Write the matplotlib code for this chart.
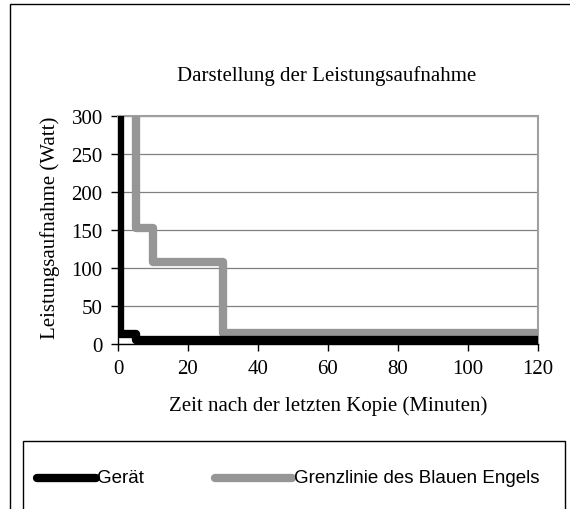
import matplotlib
matplotlib.use("Agg")
import matplotlib.pyplot as plt
from matplotlib.patches import Rectangle
from matplotlib.lines import Line2D

# Data
geraet_x = [0.5, 0.5, 5, 5, 120]
geraet_y = [400, 13, 13, 5, 5]
grenz_x = [5, 5, 10, 10, 30, 30, 120]
grenz_y = [400, 152, 152, 108, 108, 14, 14]
x_ticks = [0, 20, 40, 60, 80, 100, 120]
y_ticks = [0, 50, 100, 150, 200, 250, 300]
title = "Darstellung der Leistungsaufnahme"
xlabel = "Zeit nach der letzten Kopie (Minuten)"
ylabel = "Leistungsaufnahme (Watt)"
labels = ["Gerät", "Grenzlinie des Blauen Engels"]

W, H = 570, 510
fig = plt.figure(figsize=(W / 100, H / 100), dpi=100)

def fx(px):
    return px / W

def fy(py):
    return 1 - py / H

# outer chart frame (extends beyond the image on right and bottom)
fig.patches.append(Rectangle((fx(10), fy(540)), fx(600) - fx(10), fy(5) - fy(540),
                             transform=fig.transFigure, fill=False,
                             edgecolor="black", linewidth=1))

ax = fig.add_axes([fx(118), fy(345), fx(538) - fx(118), fy(116.7) - fy(345)])
ax.plot(grenz_x, grenz_y, color="#969696", linewidth=6, solid_joinstyle="round",
        solid_capstyle="round", zorder=3)
ax.plot(geraet_x, geraet_y, color="black", linewidth=6, solid_joinstyle="round",
        solid_capstyle="round", zorder=4)
ax.set_xlim(0, 120)
ax.set_ylim(0, 300)
ax.set_xticks(x_ticks)
ax.set_yticks(y_ticks)
serif = "Liberation Serif"
fs = 15
ax.set_xticklabels([str(v) for v in x_ticks], fontfamily=serif, fontsize=fs)
ax.set_yticklabels([str(v) for v in y_ticks], fontfamily=serif, fontsize=fs)
ax.tick_params(direction="out", length=5, width=1, color="black", pad=6)
ax.yaxis.grid(True, color="#808080", linewidth=0.9)
ax.set_axisbelow(True)
for s in ["top", "right"]:
    ax.spines[s].set_color("#a0a0a0")
    ax.spines[s].set_linewidth(1.5)
for s in ["left", "bottom"]:
    ax.spines[s].set_color("black")
    ax.spines[s].set_linewidth(1)

fig.text(fx(327), fy(76), title, ha="center", va="center", fontfamily=serif, fontsize=fs)
fig.text(fx(328), fy(406), xlabel, ha="center", va="center", fontfamily=serif, fontsize=fs)
fig.text(fx(50), fy(228), ylabel, ha="center", va="center", rotation=90,
         fontfamily=serif, fontsize=fs)

# legend box
fig.patches.append(Rectangle((fx(23), fy(540)), fx(565) - fx(23), fy(442) - fy(540),
                             transform=fig.transFigure, fill=False,
                             edgecolor="black", linewidth=1))
ly = fy(479)
fig.add_artist(Line2D([fx(37), fx(96)], [ly, ly], transform=fig.transFigure,
                      color="black", linewidth=6, solid_capstyle="round"))
fig.text(fx(97), ly, labels[0], ha="left", va="center", fontfamily="Liberation Sans",
         fontsize=13.5)
fig.add_artist(Line2D([fx(215), fx(292)], [ly, ly], transform=fig.transFigure,
                      color="#969696", linewidth=6, solid_capstyle="round"))
fig.text(fx(294), ly, labels[1], ha="left", va="center", fontfamily="Liberation Sans",
         fontsize=13.5)

fig.savefig("out.png", dpi=100)
